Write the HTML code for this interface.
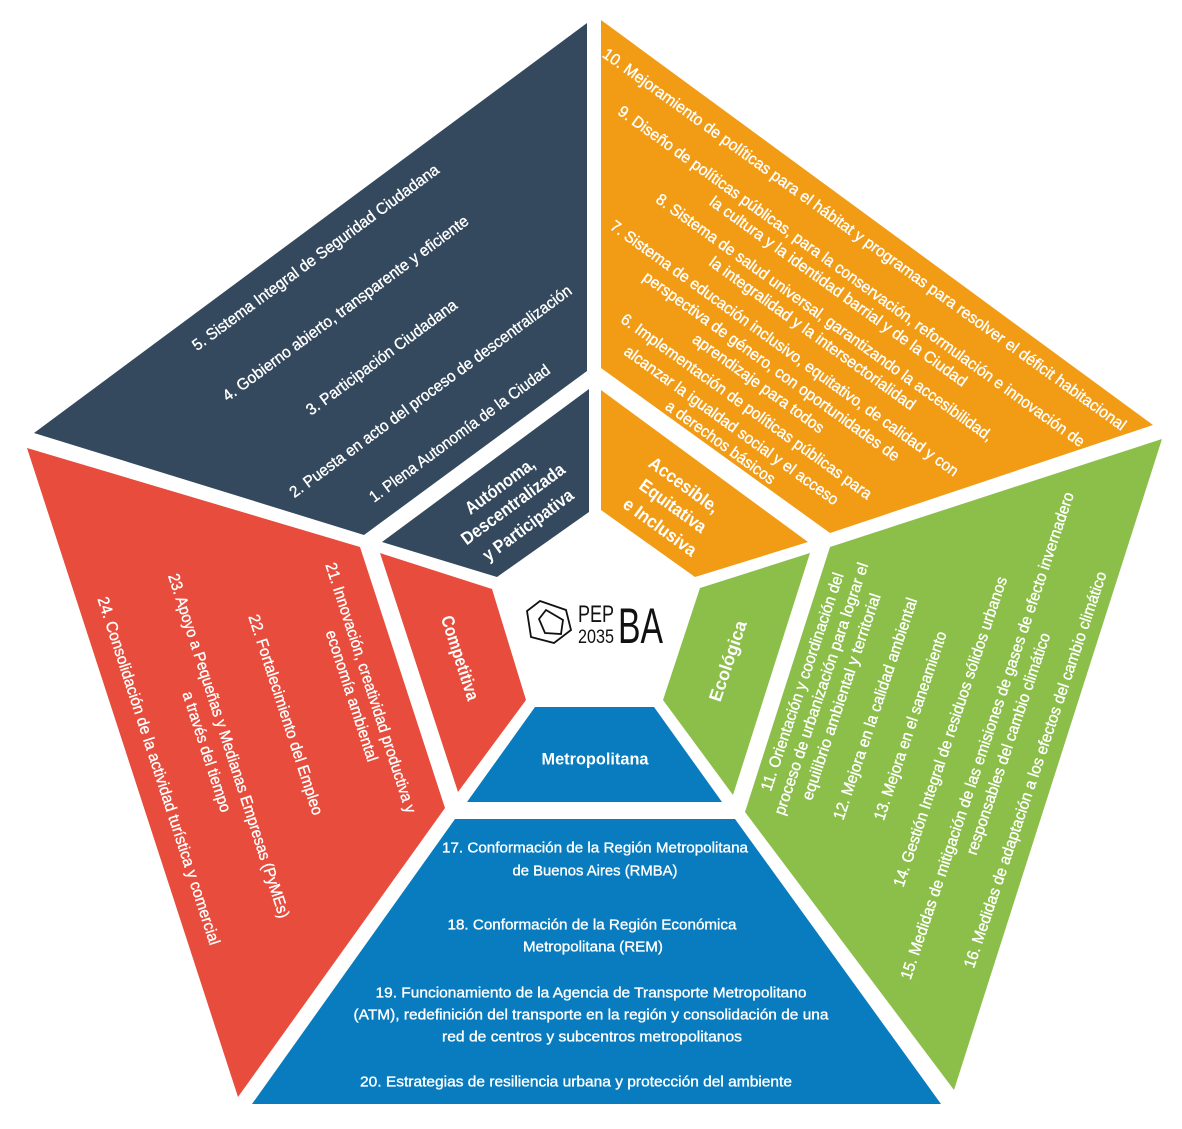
<!DOCTYPE html>
<html><head><meta charset="utf-8">
<style>
html,body{margin:0;padding:0;background:#fff;}
svg{display:block;}
text{font-family:"Liberation Sans",sans-serif;fill:#fff;}
.w text{stroke:#fff;stroke-width:0.35px;}
.w text.c{font-weight:bold;stroke-width:0;}
</style></head>
<body>
<svg width="1182" height="1129" viewBox="0 0 1182 1129" xmlns="http://www.w3.org/2000/svg">
<polygon points="587,23 34,433 364,535 587,371" fill="#34495e"/>
<polygon points="589,389 382,542 497,577 589,512" fill="#34495e"/>
<polygon points="601,20 1153,425 830,533 601,368" fill="#f29c16"/>
<polygon points="601,390 808,542 695,577 601,510" fill="#f29c16"/>
<polygon points="1162,439 954,1090 745,812 830,547" fill="#8bbf4a"/>
<polygon points="810,553 733,795 663,700 700,588" fill="#8bbf4a"/>
<polygon points="27,448 360,547 445,808 238,1097" fill="#e74c3c"/>
<polygon points="380,553 492,589 526,700 458,792" fill="#e74c3c"/>
<polygon points="455,819 735,819 941,1104 252,1104" fill="#087cbf"/>
<polygon points="535,707 654,707 722,802 467,802" fill="#087cbf"/>

<g fill="none" stroke="#111" stroke-width="1.8">
<polygon points="540,601 566,610 571,630 554,643 531,637 527,611"/>
<polygon points="546,610 563,620 561,634 545,633 539,619"/>
</g>
<text x="578" y="622" style="fill:#111;font-size:24px" textLength="36" lengthAdjust="spacingAndGlyphs">PEP</text>
<text x="578" y="643" style="fill:#111;font-size:19px" textLength="36" lengthAdjust="spacingAndGlyphs">2035</text>
<text x="618" y="643" style="fill:#111;font-size:50px" textLength="45" lengthAdjust="spacingAndGlyphs">BA</text>

<g class="w" font-size="16" text-anchor="middle" dominant-baseline="central">
<text transform="translate(316,258) rotate(-36.4)" textLength="302" lengthAdjust="spacingAndGlyphs">5. Sistema Integral de Seguridad Ciudadana</text>
<text transform="translate(346,309) rotate(-36.4)" textLength="301" lengthAdjust="spacingAndGlyphs">4. Gobierno abierto, transparente y eficiente</text>
<text transform="translate(382,358) rotate(-36.4)" textLength="183" lengthAdjust="spacingAndGlyphs">3. Participación Ciudadana</text>
<text transform="translate(431,392) rotate(-36.4)" textLength="346" lengthAdjust="spacingAndGlyphs">2. Puesta en acto del proceso de descentralización</text>
<text transform="translate(460,434) rotate(-36.4)" textLength="220" lengthAdjust="spacingAndGlyphs">1. Plena Autonomía de la Ciudad</text>
<text class="c" transform="translate(500,486) rotate(-36.4)" font-size="18" textLength="82" lengthAdjust="spacingAndGlyphs">Autónoma,</text>
<text class="c" transform="translate(513,504) rotate(-36.4)" font-size="18" textLength="124" lengthAdjust="spacingAndGlyphs">Descentralizada</text>
<text class="c" transform="translate(528,525) rotate(-36.4)" font-size="18" textLength="108" lengthAdjust="spacingAndGlyphs">y Participativa</text>

<text transform="translate(864,240) rotate(35.8)" textLength="641" lengthAdjust="spacingAndGlyphs">10. Mejoramiento de políticas para el hábitat y programas para resolver el déficit habitacional</text>
<text transform="translate(851,277) rotate(35.8)" textLength="571" lengthAdjust="spacingAndGlyphs">9. Diseño de políticas públicas, para la conservación, reformulación e innovación de</text>
<text transform="translate(838,292) rotate(35.8)" textLength="313" lengthAdjust="spacingAndGlyphs">la cultura y la identidad barrial y de la Ciudad</text>
<text transform="translate(824,318) rotate(35.8)" textLength="411" lengthAdjust="spacingAndGlyphs">8. Sistema de salud universal, garantizando la accesibilidad,</text>
<text transform="translate(812,334) rotate(35.8)" textLength="250" lengthAdjust="spacingAndGlyphs">la integralidad y la intersectorialidad</text>
<text transform="translate(784,349) rotate(35.8)" textLength="425" lengthAdjust="spacingAndGlyphs">7. Sistema de educación inclusivo, equitativo, de calidad y con</text>
<text transform="translate(771,367) rotate(35.8)" textLength="312" lengthAdjust="spacingAndGlyphs">perspectiva de género, con oportunidades de</text>
<text transform="translate(758,384) rotate(35.8)" textLength="158" lengthAdjust="spacingAndGlyphs">aprendizaje para todos</text>
<text transform="translate(746,407) rotate(35.8)" textLength="305" lengthAdjust="spacingAndGlyphs">6. Implementación de políticas públicas para</text>
<text transform="translate(731,426) rotate(35.8)" textLength="260" lengthAdjust="spacingAndGlyphs">alcanzar la igualdad social y el acceso</text>
<text transform="translate(720,443) rotate(35.8)" textLength="131" lengthAdjust="spacingAndGlyphs">a derechos básicos</text>
<text class="c" transform="translate(684,485) rotate(36)" font-size="18" textLength="82" lengthAdjust="spacingAndGlyphs">Accesible,</text>
<text class="c" transform="translate(673,506) rotate(36)" font-size="18" textLength="78" lengthAdjust="spacingAndGlyphs">Equitativa</text>
<text class="c" transform="translate(660,527) rotate(36)" font-size="18" textLength="86" lengthAdjust="spacingAndGlyphs">e Inclusiva</text>

<text transform="translate(803,682) rotate(-71.4)" textLength="229" lengthAdjust="spacingAndGlyphs">11. Orientación y coordinación del</text>
<text transform="translate(822,689) rotate(-71.4)" textLength="265" lengthAdjust="spacingAndGlyphs">proceso de urbanización para lograr el</text>
<text transform="translate(842,697) rotate(-71.4)" textLength="217" lengthAdjust="spacingAndGlyphs">equilibrio ambiental y territorial</text>
<text transform="translate(876,709) rotate(-71.4)" textLength="233" lengthAdjust="spacingAndGlyphs">12. Mejora en la calidad ambiental</text>
<text transform="translate(911,726) rotate(-71.4)" textLength="198" lengthAdjust="spacingAndGlyphs">13. Mejora en el saneamiento</text>
<text transform="translate(951,732) rotate(-71.4)" textLength="326" lengthAdjust="spacingAndGlyphs">14. Gestión Integral de residuos sólidos urbanos</text>
<text transform="translate(988,736) rotate(-71.4)" textLength="513" lengthAdjust="spacingAndGlyphs">15. Medidas de mitigación de las emisiones de gases de efecto invernadero</text>
<text transform="translate(1009,744) rotate(-71.4)" textLength="233" lengthAdjust="spacingAndGlyphs">responsables del cambio climático</text>
<text transform="translate(1036,770) rotate(-71.4)" textLength="417" lengthAdjust="spacingAndGlyphs">16. Medidas de adaptación a los efectos del cambio climático</text>
<text class="c" transform="translate(728,661) rotate(-71.4)" font-size="18" textLength="84" lengthAdjust="spacingAndGlyphs">Ecológica</text>

<text transform="translate(370,688) rotate(72)" textLength="262" lengthAdjust="spacingAndGlyphs">21. Innovación, creatividad productiva y</text>
<text transform="translate(351,696) rotate(72)" textLength="137" lengthAdjust="spacingAndGlyphs">economía ambiental</text>
<text transform="translate(285,715) rotate(72)" textLength="210" lengthAdjust="spacingAndGlyphs">22. Fortalecimiento del Empleo</text>
<text transform="translate(228,746) rotate(72)" textLength="361" lengthAdjust="spacingAndGlyphs">23. Apoyo a Pequeñas y Medianas Empresas (PyMEs)</text>
<text transform="translate(206,752) rotate(72)" textLength="126" lengthAdjust="spacingAndGlyphs">a través del tiempo</text>
<text transform="translate(158,771) rotate(72)" textLength="365" lengthAdjust="spacingAndGlyphs">24. Consolidación de la actividad turística y comercial</text>
<text class="c" transform="translate(460,658) rotate(72)" font-size="18" textLength="88" lengthAdjust="spacingAndGlyphs">Competitiva</text>
</g>

<g class="w" font-size="15" text-anchor="middle" dominant-baseline="central">
<text class="c" x="595" y="759" font-size="17" textLength="107" lengthAdjust="spacingAndGlyphs">Metropolitana</text>
<text x="595" y="848" textLength="306" lengthAdjust="spacingAndGlyphs">17. Conformación de la Región Metropolitana</text>
<text x="595" y="871" textLength="165" lengthAdjust="spacingAndGlyphs">de Buenos Aires (RMBA)</text>
<text x="592" y="925" textLength="289" lengthAdjust="spacingAndGlyphs">18. Conformación de la Región Económica</text>
<text x="593" y="947" textLength="140" lengthAdjust="spacingAndGlyphs">Metropolitana (REM)</text>
<text x="591" y="993" textLength="431" lengthAdjust="spacingAndGlyphs">19. Funcionamiento de la Agencia de Transporte Metropolitano</text>
<text x="591" y="1015" textLength="475" lengthAdjust="spacingAndGlyphs">(ATM), redefinición del transporte en la región y consolidación de una</text>
<text x="592" y="1037" textLength="300" lengthAdjust="spacingAndGlyphs">red de centros y subcentros metropolitanos</text>
<text x="576" y="1082" textLength="432" lengthAdjust="spacingAndGlyphs">20. Estrategias de resiliencia urbana y protección del ambiente</text>
</g>
</svg>
</body></html>
